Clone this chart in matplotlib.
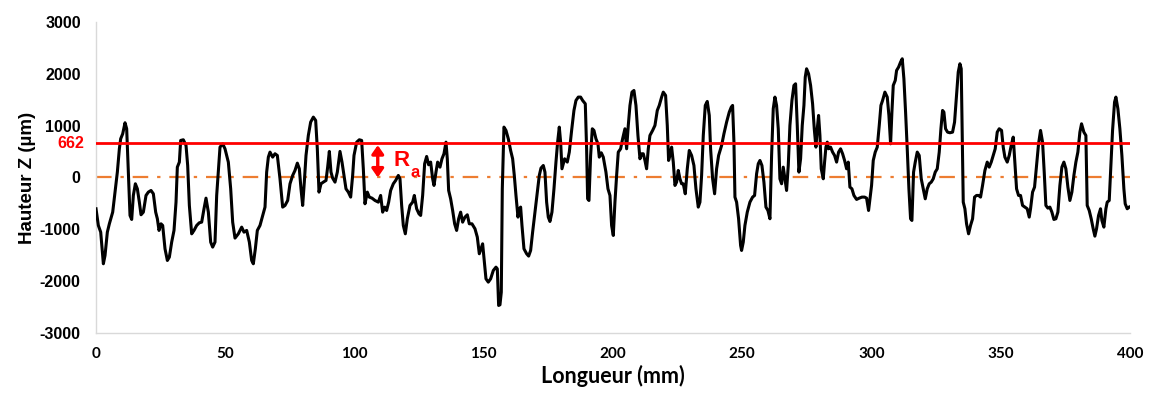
import matplotlib
matplotlib.use("Agg")
import matplotlib.pyplot as plt
import matplotlib.transforms as mtransforms

# Profile, one line per ~ 50 mm stretch
profile_x = [
    0.00, 0.90, 1.81, 2.84, 3.48, 4.38, 5.16, 6.45, 7.35, 8.25,
    9.03, 9.54, 10.32, 11.22, 11.86, 12.51, 13.15, 13.80, 14.44, 15.22,
    15.99, 16.76, 17.41, 18.31, 19.34, 20.24, 21.28, 22.18, 23.08, 23.73,
    24.37, 25.14, 25.79, 26.69, 27.60, 28.37, 29.27, 30.17, 30.95, 31.46,
    32.24, 32.75, 33.78, 34.82, 35.46, 36.11, 37.01, 37.91, 38.94, 39.97,
    40.88, 41.78, 42.55, 43.46, 44.36, 45.13, 46.03, 46.68, 47.32, 47.97,
    49.00,
    49.90, 51.19, 52.10, 52.87, 53.77, 55.06, 56.35, 57.25, 58.29, 59.32,
    60.22, 60.86, 61.64, 62.41, 63.44, 64.48, 65.38, 66.02, 66.67, 67.31,
    68.34, 69.25, 70.15, 71.18, 72.21, 73.12, 74.15, 75.05, 76.08, 76.98,
    77.89, 78.66, 79.30, 79.95, 80.59, 81.24, 82.14, 83.04, 84.08, 84.98,
    85.62, 86.27, 87.04, 87.94, 88.98, 89.62, 90.27, 90.91, 91.55, 92.46,
    93.36, 94.39, 95.17, 95.94, 96.71, 97.62, 98.52, 99.29,
    99.81, 100.84, 101.87, 102.77, 103.42, 104.06, 104.97, 105.74, 106.77, 107.93,
    109.22, 110.12, 110.90, 111.67, 112.44, 113.22, 113.99, 115.02, 115.93, 116.96,
    117.60, 118.25, 118.89, 119.67, 120.44, 121.47, 122.50, 123.15, 124.05, 124.95,
    125.60, 126.37, 127.14, 127.92, 128.69, 129.47, 130.24, 130.76, 131.53, 132.17,
    133.08, 133.85, 134.62, 135.40, 135.91, 136.43, 137.20, 137.98, 138.75, 139.52,
    140.30, 141.07, 141.84, 142.75, 143.65, 144.42, 145.45, 146.62, 147.52, 148.29,
    149.58, 150.87, 151.77, 152.68, 153.71, 154.74, 155.26, 155.77, 156.29, 156.80,
    157.19, 157.83, 158.61, 159.51, 160.41, 161.19, 161.83, 162.48, 163.25, 163.77,
    164.28, 164.80, 165.57, 166.60, 167.38, 168.15, 168.92, 169.83, 170.73, 171.50,
    172.15, 173.05, 173.69, 174.34, 174.98, 175.63, 176.40, 177.18, 177.95, 178.59,
    179.24, 179.76, 180.27, 180.79, 181.30, 182.33, 183.11, 184.01, 184.91, 185.69,
    186.59, 187.49, 188.27, 189.30, 189.81, 190.20, 190.72, 191.36, 192.01, 192.65,
    193.42, 194.20, 194.71, 195.49, 196.26, 197.29, 198.07, 198.84,
    199.48, 200.13, 200.77, 201.42, 202.06, 202.97, 203.74, 204.64, 205.29, 205.93,
    206.58, 207.35, 208.12, 208.90, 209.67, 210.45, 211.09, 211.73, 212.38, 213.02,
    213.67, 214.31, 215.35, 216.25, 217.15, 217.92, 218.83, 219.47, 220.37, 221.02,
    221.53, 222.05, 222.70, 223.34, 223.99, 224.63, 225.27, 225.92, 226.56, 227.21,
    227.98, 228.76, 229.53, 230.43, 231.33, 232.11, 233.01, 233.66, 234.30, 234.95,
    235.72, 236.49, 237.27, 237.78, 238.56, 239.33, 240.10, 240.88, 242.04, 242.94,
    243.97, 245.00, 245.78, 246.29, 246.81, 247.20, 247.84, 248.61, 249.39,
    249.77, 250.42, 251.06, 251.97, 253.00, 254.03, 254.80, 255.58, 256.22, 256.87,
    257.64, 258.41, 259.19, 259.96, 260.74, 261.38, 262.02, 262.67, 263.31, 263.96,
    264.60, 265.25, 265.89, 266.54, 267.18, 267.83, 268.47, 269.25, 270.02, 270.66,
    271.31, 271.95, 272.60, 273.24, 273.89, 274.40, 274.92, 275.69, 276.47, 277.24,
    277.89, 278.53, 279.05, 279.56, 280.08, 280.59, 281.37, 281.88, 282.40, 282.92,
    283.43, 284.20, 284.98, 285.75, 286.53, 287.30, 288.07, 288.85, 289.62, 290.40,
    291.04, 291.68, 292.46, 293.23, 294.26, 295.29, 296.33, 297.36, 298.13, 298.90,
    300.06, 300.71, 301.48, 302.26, 303.03, 303.68, 304.32, 305.22, 306.13, 306.77,
    307.42, 307.93, 308.45, 309.22, 309.74, 310.51, 311.28, 311.93, 312.57, 313.22,
    313.86, 314.51, 315.15, 315.67, 316.31, 316.96, 317.73, 318.50, 319.28, 320.05,
    320.83, 321.60, 322.37, 323.15, 323.92, 324.69, 325.47, 326.24, 326.89, 327.53,
    328.05, 328.69, 329.46, 330.37, 331.40, 332.17, 332.95, 333.59, 334.24, 334.75,
    335.14, 335.53, 336.17, 336.81, 337.59, 338.36, 339.14, 339.91, 340.68, 341.46,
    342.23, 343.00, 343.91, 344.81, 345.58, 346.36, 347.13, 347.90, 348.68, 349.45,
    350.35, 351.00, 351.64, 352.55, 353.32, 354.09, 354.87, 355.51, 356.16, 356.93,
    357.70, 358.48, 359.38, 360.28, 361.06, 361.57, 362.35, 363.12, 363.89, 364.67,
    365.44, 366.22, 366.86, 367.50, 368.28, 369.05, 369.83, 370.60, 371.37, 372.15,
    372.92, 373.69, 374.47, 375.24, 376.02, 376.79, 377.56, 378.34, 379.11, 379.88,
    380.66, 381.30, 382.20, 382.98, 383.49, 384.27, 385.04, 385.81, 386.46, 387.10,
    387.88, 388.65, 389.17, 389.94, 390.72, 391.23, 392.01, 392.65, 393.30, 394.07,
    394.59, 395.36, 396.13, 396.91, 397.68, 398.19, 398.97, 399.74,
]
profile_z = [
    -605, -926, -1055, -1665, -1505, -1055, -894, -669, -283, 103,
    553, 746, 842, 1055, 939, 103, -733, -810, -347, -122,
    -219, -476, -720, -669, -347, -283, -251, -315, -669, -797,
    -1022, -894, -926, -1376, -1601, -1537, -1247, -1022, -476, 199,
    296, 714, 727, 617, 231, -540, -1087, -1022, -926, -874,
    -862, -604, -399, -669, -1247, -1344, -1247, -347, 103, 585,
    649,
    553, 296, -219, -862, -1170, -1087, -958, -1055, -1022, -1247,
    -1601, -1665, -1376, -1022, -926, -733, -572, 103, 392, 489,
    392, 457, 424, -26, -572, -540, -444, -122, 39, 135,
    276, 167, -219, -540, -90, 424, 810, 1067, 1164, 1100,
    553, -283, -122, -90, -58, 199, 502, 103, -13, -90,
    103, 502, 296, 39, -219, -283, -379, 39,
    424, 681, 727, 714, 167, -508, -283, -379, -399, -444,
    -476, -347, -669, -572, -637, -476, -251, -122, -58, 39,
    -26, -540, -926, -1087, -797, -540, -476, -347, -604, -701,
    -733, -347, 264, 405, 244, 296, -26, -154, 103, 296,
    199, 360, 457, 681, 360, -251, -412, -637, -894, -1022,
    -797, -669, -862, -765, -720, -894, -894, -990, -1151, -1472,
    -1280, -1955, -2019, -1955, -1794, -1730, -1762, -2469, -2456, -2212,
    -219, 971, 907, 746, 521, 360, 39, -347, -765, -604,
    -572, -926, -1376, -1472, -1517, -1408, -1055, -669, -283, 39,
    180, 231, 103, -476, -765, -849, -669, -219, 296, 681,
    971, 681, 167, 264, 360, 296, 489, 907, 1292, 1485,
    1550, 1550, 1485, 1421, 553, -412, -444, 424, 939, 907,
    746, 649, 392, 476, 392, 103, -219, -347,
    -926, -1119, -476, 39, 489, 553, 746, 939, 553, 1003,
    1389, 1646, 1678, 1389, 810, 360, 457, 457, 328, 167,
    553, 810, 907, 1003, 1292, 1389, 1550, 1646, 1582, 1003,
    328, 424, 585, 296, -154, -90, 135, -26, -122, -122,
    -315, 167, 521, 424, 231, -219, -572, -476, 39, 810,
    1389, 1466, 1196, 553, -26, -315, 167, 424, 617, 842,
    1067, 1260, 1357, 1389, 681, -379, -476, -797, -1312,
    -1408, -1247, -926, -669, -476, -379, -347, 71, 264, 328,
    231, -90, -572, -637, -797, 424, 1325, 1550, 1389, 939,
    -26, -122, 199, -26, -251, 231, 1003, 1485, 1775, 1807,
    1003, 103, 360, 1003, 1389, 1935, 2096, 2000, 1775, 1421,
    939, 585, 939, 1196, 810, 167, -26, 296, 585, 681,
    553, 585, 489, 424, 296, 489, 553, 457, 328, 167,
    296, -186, -219, -347, -424, -399, -379, -379, -399, -637,
    -154, 328, 489, 585, 1003, 1389, 1485, 1646, 1550, 1196,
    649, 1260, 1775, 1871, 2064, 2128, 2225, 2289, 1903, 1260,
    553, -219, -797, -829, 103, 296, 489, 424, -26, -219,
    -412, -219, -122, -90, -26, 103, 167, 489, 939, 1292,
    1260, 939, 874, 862, 874, 1067, 1582, 2032, 2193, 2096,
    874, -476, -604, -894, -1087, -926, -797, -379, -347, -347,
    -379, -154, 135, 296, 199, 296, 424, 553, 874, 939,
    907, 585, 392, 296, 424, 617, 778, 296, -219, -347,
    -347, -540, -572, -604, -765, -604, -283, -186, 231, 649,
    907, 681, 103, -540, -592, -572, -669, -810, -797, -669,
    -154, 199, 296, 167, -186, -444, -283, 39, 296, 489,
    874, 1035, 874, 810, -540, -637, -797, -990, -1132, -990,
    -733, -604, -829, -958, -604, -476, -444, 231, 907, 1453,
    1550, 1325, 939, 424, -219, -508, -604, -572,
]

ra_value = 662
ra_arrow_x = 109
y_ticks = [-3000, -2000, -1000, 0, 1000, 2000, 3000]
x_ticks = [0, 50, 100, 150, 200, 250, 300, 350, 400]

fig = plt.figure(figsize=(11.5, 3.95), dpi=100)
ax = fig.add_axes([0.0835, 0.157, 0.899, 0.7875])

ax.plot(profile_x, profile_z, color='black', linewidth=2.2, zorder=3)
ax.axhline(ra_value, color='#FF0000', linewidth=2.0, zorder=4)
ax.axhline(0, color='#ED7D31', linewidth=1.6, linestyle=(0, (7, 4, 1.5, 4)), zorder=2)

# Ra arrow and label
ax.annotate('', xy=(ra_arrow_x, 0), xytext=(ra_arrow_x, ra_value - 40),
            arrowprops=dict(arrowstyle='<|-|>,head_length=0.5,head_width=0.35',
                            color='#FF0000', lw=2.4, shrinkA=0, shrinkB=0), zorder=5)
ax.text(115.0, 330, 'R', color='#FF0000', fontsize=16, fontweight='bold',
        family='Liberation Sans', ha='left', va='center', zorder=5)
ax.text(121.8, 100, 'a', color='#FF0000', fontsize=12, fontweight='bold',
        family='Liberation Sans', ha='left', va='center', zorder=5)

ax.set_xlim(0, 400)
ax.set_ylim(-3000, 3000)
ax.set_xticks(x_ticks)
ax.set_yticks(y_ticks)
ax.set_xticklabels([str(v) for v in x_ticks], fontsize=11, fontweight='bold', family='Lato')
ax.set_yticklabels([str(v) for v in y_ticks], fontsize=11.5, fontweight='bold', family='Liberation Sans')
ax.tick_params(axis='both', length=0, colors='black')
ax.tick_params(axis='y', pad=11)
ax.tick_params(axis='x', pad=10)

# 662 label next to the y axis
trans = mtransforms.blended_transform_factory(ax.transAxes, ax.transData)
ax.text(-0.0115, ra_value, str(ra_value), transform=trans, color='#FF0000', fontsize=11.5,
        fontweight='bold', family='Liberation Sans', ha='right', va='center')

for side in ['top', 'right']:
    ax.spines[side].set_visible(False)
for side in ['left', 'bottom']:
    ax.spines[side].set_color('#D9D9D9')
    ax.spines[side].set_linewidth(1.0)

ax.set_xlabel('Longueur (mm)', fontsize=15.5, fontweight='bold', family='Lato', labelpad=3)
ax.set_ylabel('Hauteur Z (µm)', fontsize=13.5, fontweight='bold', family='Liberation Sans', labelpad=3)

fig.savefig('out.png', dpi=100)
